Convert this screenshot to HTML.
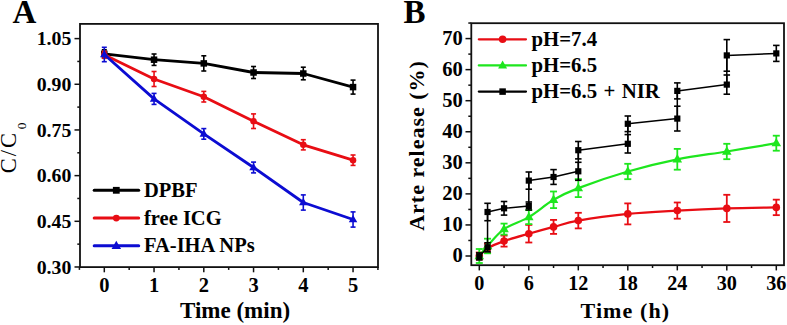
<!DOCTYPE html>
<html><head><meta charset="utf-8"><style>
html,body{margin:0;padding:0;background:#fff;width:787px;height:325px;overflow:hidden}
svg{display:block}
text{font-family:"Liberation Serif",serif}
</style></head><body>
<svg width="787" height="325" viewBox="0 0 787 325">
<rect width="787" height="325" fill="#fff"/>
<text x="12.50" y="22.70" font-size="33" font-weight="bold" text-anchor="start" >A</text>
<text x="403.50" y="22.70" font-size="33" font-weight="bold" text-anchor="start" >B</text>
<line x1="74.50" y1="266.98" x2="80.00" y2="266.98" stroke="#111" stroke-width="1.5"/>
<text x="71.30" y="273.58" font-size="19.8" font-weight="bold" text-anchor="end" >0.30</text>
<line x1="74.50" y1="221.30" x2="80.00" y2="221.30" stroke="#111" stroke-width="1.5"/>
<text x="71.30" y="227.90" font-size="19.8" font-weight="bold" text-anchor="end" >0.45</text>
<line x1="74.50" y1="175.63" x2="80.00" y2="175.63" stroke="#111" stroke-width="1.5"/>
<text x="71.30" y="182.23" font-size="19.8" font-weight="bold" text-anchor="end" >0.60</text>
<line x1="74.50" y1="129.95" x2="80.00" y2="129.95" stroke="#111" stroke-width="1.5"/>
<text x="71.30" y="136.55" font-size="19.8" font-weight="bold" text-anchor="end" >0.75</text>
<line x1="74.50" y1="84.28" x2="80.00" y2="84.28" stroke="#111" stroke-width="1.5"/>
<text x="71.30" y="90.88" font-size="19.8" font-weight="bold" text-anchor="end" >0.90</text>
<line x1="74.50" y1="38.60" x2="80.00" y2="38.60" stroke="#111" stroke-width="1.5"/>
<text x="71.30" y="45.20" font-size="19.8" font-weight="bold" text-anchor="end" >1.05</text>
<line x1="77.30" y1="244.14" x2="80.00" y2="244.14" stroke="#111" stroke-width="1.5"/>
<line x1="77.30" y1="198.46" x2="80.00" y2="198.46" stroke="#111" stroke-width="1.5"/>
<line x1="77.30" y1="152.79" x2="80.00" y2="152.79" stroke="#111" stroke-width="1.5"/>
<line x1="77.30" y1="107.11" x2="80.00" y2="107.11" stroke="#111" stroke-width="1.5"/>
<line x1="77.30" y1="61.44" x2="80.00" y2="61.44" stroke="#111" stroke-width="1.5"/>
<line x1="104.30" y1="267.10" x2="104.30" y2="272.30" stroke="#111" stroke-width="1.5"/>
<text x="104.30" y="292.20" font-size="20.5" font-weight="bold" text-anchor="middle" >0</text>
<line x1="154.05" y1="267.10" x2="154.05" y2="272.30" stroke="#111" stroke-width="1.5"/>
<text x="154.05" y="292.20" font-size="20.5" font-weight="bold" text-anchor="middle" >1</text>
<line x1="203.80" y1="267.10" x2="203.80" y2="272.30" stroke="#111" stroke-width="1.5"/>
<text x="203.80" y="292.20" font-size="20.5" font-weight="bold" text-anchor="middle" >2</text>
<line x1="253.55" y1="267.10" x2="253.55" y2="272.30" stroke="#111" stroke-width="1.5"/>
<text x="253.55" y="292.20" font-size="20.5" font-weight="bold" text-anchor="middle" >3</text>
<line x1="303.30" y1="267.10" x2="303.30" y2="272.30" stroke="#111" stroke-width="1.5"/>
<text x="303.30" y="292.20" font-size="20.5" font-weight="bold" text-anchor="middle" >4</text>
<line x1="353.05" y1="267.10" x2="353.05" y2="272.30" stroke="#111" stroke-width="1.5"/>
<text x="353.05" y="292.20" font-size="20.5" font-weight="bold" text-anchor="middle" >5</text>
<line x1="79.42" y1="267.10" x2="79.42" y2="269.90" stroke="#111" stroke-width="1.5"/>
<line x1="129.18" y1="267.10" x2="129.18" y2="269.90" stroke="#111" stroke-width="1.5"/>
<line x1="178.93" y1="267.10" x2="178.93" y2="269.90" stroke="#111" stroke-width="1.5"/>
<line x1="228.68" y1="267.10" x2="228.68" y2="269.90" stroke="#111" stroke-width="1.5"/>
<line x1="278.43" y1="267.10" x2="278.43" y2="269.90" stroke="#111" stroke-width="1.5"/>
<line x1="328.18" y1="267.10" x2="328.18" y2="269.90" stroke="#111" stroke-width="1.5"/>
<line x1="377.93" y1="267.10" x2="377.93" y2="269.90" stroke="#111" stroke-width="1.5"/>
<text x="180.00" y="318.40" font-size="23" font-weight="bold" text-anchor="start" >Time (min)</text>
<text transform="translate(16.4,173.2) rotate(-90)" font-size="22.5" font-weight="normal" letter-spacing="2">C/C<tspan font-size="13.5" dx="1.6" dy="9.6">0</tspan></text>
<polyline points="104.30,53.80 154.05,59.70 203.80,63.40 253.55,72.50 303.30,73.50 353.05,87.10" fill="none" stroke="#000" stroke-width="2.8" stroke-linejoin="round" stroke-linecap="round"/>
<line x1="104.30" y1="49.80" x2="104.30" y2="57.80" stroke="#000" stroke-width="1.6"/>
<line x1="101.80" y1="49.80" x2="106.80" y2="49.80" stroke="#000" stroke-width="1.6"/>
<line x1="101.80" y1="57.80" x2="106.80" y2="57.80" stroke="#000" stroke-width="1.6"/>
<rect x="101.05" y="50.55" width="6.5" height="6.5" fill="#000"/>
<line x1="154.05" y1="54.00" x2="154.05" y2="65.40" stroke="#000" stroke-width="1.6"/>
<line x1="151.55" y1="54.00" x2="156.55" y2="54.00" stroke="#000" stroke-width="1.6"/>
<line x1="151.55" y1="65.40" x2="156.55" y2="65.40" stroke="#000" stroke-width="1.6"/>
<rect x="150.80" y="56.45" width="6.5" height="6.5" fill="#000"/>
<line x1="203.80" y1="55.80" x2="203.80" y2="71.00" stroke="#000" stroke-width="1.6"/>
<line x1="201.30" y1="55.80" x2="206.30" y2="55.80" stroke="#000" stroke-width="1.6"/>
<line x1="201.30" y1="71.00" x2="206.30" y2="71.00" stroke="#000" stroke-width="1.6"/>
<rect x="200.55" y="60.15" width="6.5" height="6.5" fill="#000"/>
<line x1="253.55" y1="66.50" x2="253.55" y2="78.50" stroke="#000" stroke-width="1.6"/>
<line x1="251.05" y1="66.50" x2="256.05" y2="66.50" stroke="#000" stroke-width="1.6"/>
<line x1="251.05" y1="78.50" x2="256.05" y2="78.50" stroke="#000" stroke-width="1.6"/>
<rect x="250.30" y="69.25" width="6.5" height="6.5" fill="#000"/>
<line x1="303.30" y1="67.20" x2="303.30" y2="79.80" stroke="#000" stroke-width="1.6"/>
<line x1="300.80" y1="67.20" x2="305.80" y2="67.20" stroke="#000" stroke-width="1.6"/>
<line x1="300.80" y1="79.80" x2="305.80" y2="79.80" stroke="#000" stroke-width="1.6"/>
<rect x="300.05" y="70.25" width="6.5" height="6.5" fill="#000"/>
<line x1="353.05" y1="80.10" x2="353.05" y2="94.10" stroke="#000" stroke-width="1.6"/>
<line x1="350.55" y1="80.10" x2="355.55" y2="80.10" stroke="#000" stroke-width="1.6"/>
<line x1="350.55" y1="94.10" x2="355.55" y2="94.10" stroke="#000" stroke-width="1.6"/>
<rect x="349.80" y="83.85" width="6.5" height="6.5" fill="#000"/>
<polyline points="104.30,54.80 154.05,79.00 203.80,96.70 253.55,121.20 303.30,144.80 353.05,160.20" fill="none" stroke="#e80d14" stroke-width="2.8" stroke-linejoin="round" stroke-linecap="round"/>
<line x1="104.30" y1="51.30" x2="104.30" y2="58.30" stroke="#e80d14" stroke-width="1.6"/>
<line x1="101.80" y1="51.30" x2="106.80" y2="51.30" stroke="#e80d14" stroke-width="1.6"/>
<line x1="101.80" y1="58.30" x2="106.80" y2="58.30" stroke="#e80d14" stroke-width="1.6"/>
<circle cx="104.30" cy="54.80" r="3.25" fill="#e80d14"/>
<line x1="154.05" y1="71.50" x2="154.05" y2="86.50" stroke="#e80d14" stroke-width="1.6"/>
<line x1="151.55" y1="71.50" x2="156.55" y2="71.50" stroke="#e80d14" stroke-width="1.6"/>
<line x1="151.55" y1="86.50" x2="156.55" y2="86.50" stroke="#e80d14" stroke-width="1.6"/>
<circle cx="154.05" cy="79.00" r="3.25" fill="#e80d14"/>
<line x1="203.80" y1="91.40" x2="203.80" y2="102.00" stroke="#e80d14" stroke-width="1.6"/>
<line x1="201.30" y1="91.40" x2="206.30" y2="91.40" stroke="#e80d14" stroke-width="1.6"/>
<line x1="201.30" y1="102.00" x2="206.30" y2="102.00" stroke="#e80d14" stroke-width="1.6"/>
<circle cx="203.80" cy="96.70" r="3.25" fill="#e80d14"/>
<line x1="253.55" y1="113.90" x2="253.55" y2="128.50" stroke="#e80d14" stroke-width="1.6"/>
<line x1="251.05" y1="113.90" x2="256.05" y2="113.90" stroke="#e80d14" stroke-width="1.6"/>
<line x1="251.05" y1="128.50" x2="256.05" y2="128.50" stroke="#e80d14" stroke-width="1.6"/>
<circle cx="253.55" cy="121.20" r="3.25" fill="#e80d14"/>
<line x1="303.30" y1="139.70" x2="303.30" y2="149.90" stroke="#e80d14" stroke-width="1.6"/>
<line x1="300.80" y1="139.70" x2="305.80" y2="139.70" stroke="#e80d14" stroke-width="1.6"/>
<line x1="300.80" y1="149.90" x2="305.80" y2="149.90" stroke="#e80d14" stroke-width="1.6"/>
<circle cx="303.30" cy="144.80" r="3.25" fill="#e80d14"/>
<line x1="353.05" y1="155.00" x2="353.05" y2="165.40" stroke="#e80d14" stroke-width="1.6"/>
<line x1="350.55" y1="155.00" x2="355.55" y2="155.00" stroke="#e80d14" stroke-width="1.6"/>
<line x1="350.55" y1="165.40" x2="355.55" y2="165.40" stroke="#e80d14" stroke-width="1.6"/>
<circle cx="353.05" cy="160.20" r="3.25" fill="#e80d14"/>
<polyline points="104.30,54.50 154.05,98.90 203.80,133.90 253.55,167.50 303.30,202.50 353.05,219.50" fill="none" stroke="#0c0cd2" stroke-width="2.8" stroke-linejoin="round" stroke-linecap="round"/>
<line x1="104.30" y1="47.30" x2="104.30" y2="61.70" stroke="#0c0cd2" stroke-width="1.6"/>
<line x1="101.80" y1="47.30" x2="106.80" y2="47.30" stroke="#0c0cd2" stroke-width="1.6"/>
<line x1="101.80" y1="61.70" x2="106.80" y2="61.70" stroke="#0c0cd2" stroke-width="1.6"/>
<polygon points="104.30,49.92 108.55,57.31 100.05,57.31" fill="#0c0cd2"/>
<line x1="154.05" y1="93.40" x2="154.05" y2="104.40" stroke="#0c0cd2" stroke-width="1.6"/>
<line x1="151.55" y1="93.40" x2="156.55" y2="93.40" stroke="#0c0cd2" stroke-width="1.6"/>
<line x1="151.55" y1="104.40" x2="156.55" y2="104.40" stroke="#0c0cd2" stroke-width="1.6"/>
<polygon points="154.05,94.32 158.30,101.71 149.80,101.71" fill="#0c0cd2"/>
<line x1="203.80" y1="128.60" x2="203.80" y2="139.20" stroke="#0c0cd2" stroke-width="1.6"/>
<line x1="201.30" y1="128.60" x2="206.30" y2="128.60" stroke="#0c0cd2" stroke-width="1.6"/>
<line x1="201.30" y1="139.20" x2="206.30" y2="139.20" stroke="#0c0cd2" stroke-width="1.6"/>
<polygon points="203.80,129.32 208.05,136.71 199.55,136.71" fill="#0c0cd2"/>
<line x1="253.55" y1="162.10" x2="253.55" y2="172.90" stroke="#0c0cd2" stroke-width="1.6"/>
<line x1="251.05" y1="162.10" x2="256.05" y2="162.10" stroke="#0c0cd2" stroke-width="1.6"/>
<line x1="251.05" y1="172.90" x2="256.05" y2="172.90" stroke="#0c0cd2" stroke-width="1.6"/>
<polygon points="253.55,162.92 257.80,170.31 249.30,170.31" fill="#0c0cd2"/>
<line x1="303.30" y1="194.90" x2="303.30" y2="210.10" stroke="#0c0cd2" stroke-width="1.6"/>
<line x1="300.80" y1="194.90" x2="305.80" y2="194.90" stroke="#0c0cd2" stroke-width="1.6"/>
<line x1="300.80" y1="210.10" x2="305.80" y2="210.10" stroke="#0c0cd2" stroke-width="1.6"/>
<polygon points="303.30,197.92 307.55,205.31 299.05,205.31" fill="#0c0cd2"/>
<line x1="353.05" y1="211.90" x2="353.05" y2="227.10" stroke="#0c0cd2" stroke-width="1.6"/>
<line x1="350.55" y1="211.90" x2="355.55" y2="211.90" stroke="#0c0cd2" stroke-width="1.6"/>
<line x1="350.55" y1="227.10" x2="355.55" y2="227.10" stroke="#0c0cd2" stroke-width="1.6"/>
<polygon points="353.05,214.92 357.30,222.31 348.80,222.31" fill="#0c0cd2"/>
<line x1="94.2" y1="190.30" x2="138.7" y2="190.30" stroke="#000" stroke-width="3" stroke-linecap="round"/>
<rect x="112.90" y="186.90" width="6.8" height="6.8" fill="#000"/>
<text x="144.00" y="196.80" font-size="20.5" font-weight="bold" text-anchor="start" >DPBF</text>
<line x1="94.2" y1="218.05" x2="138.7" y2="218.05" stroke="#e80d14" stroke-width="3" stroke-linecap="round"/>
<circle cx="116.30" cy="218.05" r="3.4" fill="#e80d14"/>
<text x="144.00" y="224.55" font-size="20.5" font-weight="bold" text-anchor="start" >free ICG</text>
<line x1="94.2" y1="245.80" x2="138.7" y2="245.80" stroke="#0c0cd2" stroke-width="3" stroke-linecap="round"/>
<polygon points="116.30,240.68 121.05,248.94 111.55,248.94" fill="#0c0cd2"/>
<text x="144.00" y="252.30" font-size="20.5" font-weight="bold" text-anchor="start" >FA-IHA NPs</text>
<rect x="80.0" y="23.9" width="298.00" height="243.20" fill="none" stroke="#111" stroke-width="1.8"/>
<line x1="465.50" y1="256.00" x2="471.30" y2="256.00" stroke="#111" stroke-width="1.5"/>
<text x="462.80" y="262.30" font-size="20.5" font-weight="bold" text-anchor="end" >0</text>
<line x1="465.50" y1="224.94" x2="471.30" y2="224.94" stroke="#111" stroke-width="1.5"/>
<text x="462.80" y="231.24" font-size="20.5" font-weight="bold" text-anchor="end" >10</text>
<line x1="465.50" y1="193.88" x2="471.30" y2="193.88" stroke="#111" stroke-width="1.5"/>
<text x="462.80" y="200.18" font-size="20.5" font-weight="bold" text-anchor="end" >20</text>
<line x1="465.50" y1="162.82" x2="471.30" y2="162.82" stroke="#111" stroke-width="1.5"/>
<text x="462.80" y="169.12" font-size="20.5" font-weight="bold" text-anchor="end" >30</text>
<line x1="465.50" y1="131.76" x2="471.30" y2="131.76" stroke="#111" stroke-width="1.5"/>
<text x="462.80" y="138.06" font-size="20.5" font-weight="bold" text-anchor="end" >40</text>
<line x1="465.50" y1="100.70" x2="471.30" y2="100.70" stroke="#111" stroke-width="1.5"/>
<text x="462.80" y="107.00" font-size="20.5" font-weight="bold" text-anchor="end" >50</text>
<line x1="465.50" y1="69.64" x2="471.30" y2="69.64" stroke="#111" stroke-width="1.5"/>
<text x="462.80" y="75.94" font-size="20.5" font-weight="bold" text-anchor="end" >60</text>
<line x1="465.50" y1="38.58" x2="471.30" y2="38.58" stroke="#111" stroke-width="1.5"/>
<text x="462.80" y="44.88" font-size="20.5" font-weight="bold" text-anchor="end" >70</text>
<line x1="468.30" y1="240.47" x2="471.30" y2="240.47" stroke="#111" stroke-width="1.5"/>
<line x1="468.30" y1="209.41" x2="471.30" y2="209.41" stroke="#111" stroke-width="1.5"/>
<line x1="468.30" y1="178.35" x2="471.30" y2="178.35" stroke="#111" stroke-width="1.5"/>
<line x1="468.30" y1="147.29" x2="471.30" y2="147.29" stroke="#111" stroke-width="1.5"/>
<line x1="468.30" y1="116.23" x2="471.30" y2="116.23" stroke="#111" stroke-width="1.5"/>
<line x1="468.30" y1="85.17" x2="471.30" y2="85.17" stroke="#111" stroke-width="1.5"/>
<line x1="468.30" y1="54.11" x2="471.30" y2="54.11" stroke="#111" stroke-width="1.5"/>
<line x1="468.30" y1="23.05" x2="471.30" y2="23.05" stroke="#111" stroke-width="1.5"/>
<line x1="479.30" y1="265.20" x2="479.30" y2="270.40" stroke="#111" stroke-width="1.5"/>
<text x="479.30" y="290.00" font-size="20.2" font-weight="bold" text-anchor="middle" >0</text>
<line x1="528.80" y1="265.20" x2="528.80" y2="270.40" stroke="#111" stroke-width="1.5"/>
<text x="528.80" y="290.00" font-size="20.2" font-weight="bold" text-anchor="middle" >6</text>
<line x1="578.30" y1="265.20" x2="578.30" y2="270.40" stroke="#111" stroke-width="1.5"/>
<text x="578.30" y="290.00" font-size="20.2" font-weight="bold" text-anchor="middle" >12</text>
<line x1="627.80" y1="265.20" x2="627.80" y2="270.40" stroke="#111" stroke-width="1.5"/>
<text x="627.80" y="290.00" font-size="20.2" font-weight="bold" text-anchor="middle" >18</text>
<line x1="677.30" y1="265.20" x2="677.30" y2="270.40" stroke="#111" stroke-width="1.5"/>
<text x="677.30" y="290.00" font-size="20.2" font-weight="bold" text-anchor="middle" >24</text>
<line x1="726.80" y1="265.20" x2="726.80" y2="270.40" stroke="#111" stroke-width="1.5"/>
<text x="726.80" y="290.00" font-size="20.2" font-weight="bold" text-anchor="middle" >30</text>
<line x1="776.30" y1="265.20" x2="776.30" y2="270.40" stroke="#111" stroke-width="1.5"/>
<text x="776.30" y="290.00" font-size="20.2" font-weight="bold" text-anchor="middle" >36</text>
<line x1="504.05" y1="265.20" x2="504.05" y2="268.00" stroke="#111" stroke-width="1.5"/>
<line x1="553.55" y1="265.20" x2="553.55" y2="268.00" stroke="#111" stroke-width="1.5"/>
<line x1="603.05" y1="265.20" x2="603.05" y2="268.00" stroke="#111" stroke-width="1.5"/>
<line x1="652.55" y1="265.20" x2="652.55" y2="268.00" stroke="#111" stroke-width="1.5"/>
<line x1="702.05" y1="265.20" x2="702.05" y2="268.00" stroke="#111" stroke-width="1.5"/>
<line x1="751.55" y1="265.20" x2="751.55" y2="268.00" stroke="#111" stroke-width="1.5"/>
<text x="580.50" y="318.40" font-size="22" font-weight="bold" text-anchor="start" letter-spacing="1.1" >Time (h)</text>
<text transform="translate(423.6,230.8) rotate(-90)" font-size="22" font-weight="bold" letter-spacing="1">Arte release (%)</text>
<path d="M479.30,256.00 C480.68,254.70 483.43,250.68 487.55,248.20 C491.68,245.72 497.18,243.52 504.05,241.10 C510.93,238.68 520.55,236.07 528.80,233.70 C537.05,231.33 545.30,229.08 553.55,226.90 C561.80,224.72 565.92,222.77 578.30,220.60 C590.67,218.43 611.30,215.57 627.80,213.90 C644.30,212.23 660.80,211.52 677.30,210.60 C693.80,209.68 710.30,208.93 726.80,208.40 C743.30,207.87 768.05,207.57 776.30,207.40" fill="none" stroke="#e80d14" stroke-width="2.2" stroke-linecap="round"/>
<line x1="479.30" y1="252.50" x2="479.30" y2="259.50" stroke="#e80d14" stroke-width="1.8"/>
<line x1="475.80" y1="252.50" x2="482.80" y2="252.50" stroke="#e80d14" stroke-width="1.8"/>
<line x1="475.80" y1="259.50" x2="482.80" y2="259.50" stroke="#e80d14" stroke-width="1.8"/>
<circle cx="479.30" cy="256.00" r="3.8" fill="#e80d14"/>
<line x1="487.55" y1="243.70" x2="487.55" y2="252.70" stroke="#e80d14" stroke-width="1.8"/>
<line x1="484.05" y1="243.70" x2="491.05" y2="243.70" stroke="#e80d14" stroke-width="1.8"/>
<line x1="484.05" y1="252.70" x2="491.05" y2="252.70" stroke="#e80d14" stroke-width="1.8"/>
<circle cx="487.55" cy="248.20" r="3.8" fill="#e80d14"/>
<line x1="504.05" y1="235.60" x2="504.05" y2="246.60" stroke="#e80d14" stroke-width="1.8"/>
<line x1="500.55" y1="235.60" x2="507.55" y2="235.60" stroke="#e80d14" stroke-width="1.8"/>
<line x1="500.55" y1="246.60" x2="507.55" y2="246.60" stroke="#e80d14" stroke-width="1.8"/>
<circle cx="504.05" cy="241.10" r="3.8" fill="#e80d14"/>
<line x1="528.80" y1="224.90" x2="528.80" y2="242.50" stroke="#e80d14" stroke-width="1.8"/>
<line x1="525.30" y1="224.90" x2="532.30" y2="224.90" stroke="#e80d14" stroke-width="1.8"/>
<line x1="525.30" y1="242.50" x2="532.30" y2="242.50" stroke="#e80d14" stroke-width="1.8"/>
<circle cx="528.80" cy="233.70" r="3.8" fill="#e80d14"/>
<line x1="553.55" y1="219.90" x2="553.55" y2="233.90" stroke="#e80d14" stroke-width="1.8"/>
<line x1="550.05" y1="219.90" x2="557.05" y2="219.90" stroke="#e80d14" stroke-width="1.8"/>
<line x1="550.05" y1="233.90" x2="557.05" y2="233.90" stroke="#e80d14" stroke-width="1.8"/>
<circle cx="553.55" cy="226.90" r="3.8" fill="#e80d14"/>
<line x1="578.30" y1="212.80" x2="578.30" y2="228.40" stroke="#e80d14" stroke-width="1.8"/>
<line x1="574.80" y1="212.80" x2="581.80" y2="212.80" stroke="#e80d14" stroke-width="1.8"/>
<line x1="574.80" y1="228.40" x2="581.80" y2="228.40" stroke="#e80d14" stroke-width="1.8"/>
<circle cx="578.30" cy="220.60" r="3.8" fill="#e80d14"/>
<line x1="627.80" y1="203.40" x2="627.80" y2="224.40" stroke="#e80d14" stroke-width="1.8"/>
<line x1="624.30" y1="203.40" x2="631.30" y2="203.40" stroke="#e80d14" stroke-width="1.8"/>
<line x1="624.30" y1="224.40" x2="631.30" y2="224.40" stroke="#e80d14" stroke-width="1.8"/>
<circle cx="627.80" cy="213.90" r="3.8" fill="#e80d14"/>
<line x1="677.30" y1="202.50" x2="677.30" y2="218.70" stroke="#e80d14" stroke-width="1.8"/>
<line x1="673.80" y1="202.50" x2="680.80" y2="202.50" stroke="#e80d14" stroke-width="1.8"/>
<line x1="673.80" y1="218.70" x2="680.80" y2="218.70" stroke="#e80d14" stroke-width="1.8"/>
<circle cx="677.30" cy="210.60" r="3.8" fill="#e80d14"/>
<line x1="726.80" y1="194.80" x2="726.80" y2="222.00" stroke="#e80d14" stroke-width="1.8"/>
<line x1="723.30" y1="194.80" x2="730.30" y2="194.80" stroke="#e80d14" stroke-width="1.8"/>
<line x1="723.30" y1="222.00" x2="730.30" y2="222.00" stroke="#e80d14" stroke-width="1.8"/>
<circle cx="726.80" cy="208.40" r="3.8" fill="#e80d14"/>
<line x1="776.30" y1="199.65" x2="776.30" y2="215.15" stroke="#e80d14" stroke-width="1.8"/>
<line x1="772.80" y1="199.65" x2="779.80" y2="199.65" stroke="#e80d14" stroke-width="1.8"/>
<line x1="772.80" y1="215.15" x2="779.80" y2="215.15" stroke="#e80d14" stroke-width="1.8"/>
<circle cx="776.30" cy="207.40" r="3.8" fill="#e80d14"/>
<path d="M479.30,256.00 C480.68,254.33 483.43,250.48 487.55,246.00 C491.68,241.52 497.18,233.92 504.05,229.10 C510.93,224.28 520.55,221.98 528.80,217.10 C537.05,212.22 545.30,204.63 553.55,199.80 C561.80,194.97 565.92,192.82 578.30,188.10 C590.67,183.38 611.30,176.30 627.80,171.50 C644.30,166.70 660.80,162.63 677.30,159.30 C693.80,155.97 710.30,154.18 726.80,151.50 C743.30,148.82 768.05,144.58 776.30,143.20" fill="none" stroke="#1ee61e" stroke-width="2.2" stroke-linecap="round"/>
<line x1="479.30" y1="249.00" x2="479.30" y2="263.00" stroke="#1ee61e" stroke-width="1.8"/>
<line x1="475.80" y1="249.00" x2="482.80" y2="249.00" stroke="#1ee61e" stroke-width="1.8"/>
<line x1="475.80" y1="263.00" x2="482.80" y2="263.00" stroke="#1ee61e" stroke-width="1.8"/>
<polygon points="479.30,250.82 484.10,259.17 474.50,259.17" fill="#1ee61e"/>
<line x1="487.55" y1="238.70" x2="487.55" y2="253.30" stroke="#1ee61e" stroke-width="1.8"/>
<line x1="484.05" y1="238.70" x2="491.05" y2="238.70" stroke="#1ee61e" stroke-width="1.8"/>
<line x1="484.05" y1="253.30" x2="491.05" y2="253.30" stroke="#1ee61e" stroke-width="1.8"/>
<polygon points="487.55,240.82 492.35,249.17 482.75,249.17" fill="#1ee61e"/>
<line x1="504.05" y1="223.60" x2="504.05" y2="234.60" stroke="#1ee61e" stroke-width="1.8"/>
<line x1="500.55" y1="223.60" x2="507.55" y2="223.60" stroke="#1ee61e" stroke-width="1.8"/>
<line x1="500.55" y1="234.60" x2="507.55" y2="234.60" stroke="#1ee61e" stroke-width="1.8"/>
<polygon points="504.05,223.92 508.85,232.27 499.25,232.27" fill="#1ee61e"/>
<line x1="528.80" y1="210.10" x2="528.80" y2="224.10" stroke="#1ee61e" stroke-width="1.8"/>
<line x1="525.30" y1="210.10" x2="532.30" y2="210.10" stroke="#1ee61e" stroke-width="1.8"/>
<line x1="525.30" y1="224.10" x2="532.30" y2="224.10" stroke="#1ee61e" stroke-width="1.8"/>
<polygon points="528.80,211.92 533.60,220.27 524.00,220.27" fill="#1ee61e"/>
<line x1="553.55" y1="191.50" x2="553.55" y2="208.10" stroke="#1ee61e" stroke-width="1.8"/>
<line x1="550.05" y1="191.50" x2="557.05" y2="191.50" stroke="#1ee61e" stroke-width="1.8"/>
<line x1="550.05" y1="208.10" x2="557.05" y2="208.10" stroke="#1ee61e" stroke-width="1.8"/>
<polygon points="553.55,194.62 558.35,202.97 548.75,202.97" fill="#1ee61e"/>
<line x1="578.30" y1="179.10" x2="578.30" y2="197.10" stroke="#1ee61e" stroke-width="1.8"/>
<line x1="574.80" y1="179.10" x2="581.80" y2="179.10" stroke="#1ee61e" stroke-width="1.8"/>
<line x1="574.80" y1="197.10" x2="581.80" y2="197.10" stroke="#1ee61e" stroke-width="1.8"/>
<polygon points="578.30,182.92 583.10,191.27 573.50,191.27" fill="#1ee61e"/>
<line x1="627.80" y1="163.80" x2="627.80" y2="179.20" stroke="#1ee61e" stroke-width="1.8"/>
<line x1="624.30" y1="163.80" x2="631.30" y2="163.80" stroke="#1ee61e" stroke-width="1.8"/>
<line x1="624.30" y1="179.20" x2="631.30" y2="179.20" stroke="#1ee61e" stroke-width="1.8"/>
<polygon points="627.80,166.32 632.60,174.67 623.00,174.67" fill="#1ee61e"/>
<line x1="677.30" y1="148.90" x2="677.30" y2="169.70" stroke="#1ee61e" stroke-width="1.8"/>
<line x1="673.80" y1="148.90" x2="680.80" y2="148.90" stroke="#1ee61e" stroke-width="1.8"/>
<line x1="673.80" y1="169.70" x2="680.80" y2="169.70" stroke="#1ee61e" stroke-width="1.8"/>
<polygon points="677.30,154.12 682.10,162.47 672.50,162.47" fill="#1ee61e"/>
<line x1="726.80" y1="143.80" x2="726.80" y2="159.20" stroke="#1ee61e" stroke-width="1.8"/>
<line x1="723.30" y1="143.80" x2="730.30" y2="143.80" stroke="#1ee61e" stroke-width="1.8"/>
<line x1="723.30" y1="159.20" x2="730.30" y2="159.20" stroke="#1ee61e" stroke-width="1.8"/>
<polygon points="726.80,146.32 731.60,154.67 722.00,154.67" fill="#1ee61e"/>
<line x1="776.30" y1="135.70" x2="776.30" y2="150.70" stroke="#1ee61e" stroke-width="1.8"/>
<line x1="772.80" y1="135.70" x2="779.80" y2="135.70" stroke="#1ee61e" stroke-width="1.8"/>
<line x1="772.80" y1="150.70" x2="779.80" y2="150.70" stroke="#1ee61e" stroke-width="1.8"/>
<polygon points="776.30,138.02 781.10,146.37 771.50,146.37" fill="#1ee61e"/>
<polyline points="479.30,256.40 487.55,247.30 487.55,212.00 504.05,208.30 528.80,206.00 528.80,180.60 553.55,177.00 578.30,171.30 578.30,150.20 627.80,143.80 627.80,123.80 677.30,118.60 677.30,90.90 726.80,84.60 726.80,55.40 776.30,53.40" fill="none" stroke="#000" stroke-width="1.5" stroke-linejoin="round" stroke-linecap="round"/>
<line x1="479.30" y1="252.90" x2="479.30" y2="259.90" stroke="#000" stroke-width="1.6"/>
<line x1="476.05" y1="252.90" x2="482.55" y2="252.90" stroke="#000" stroke-width="1.6"/>
<line x1="476.05" y1="259.90" x2="482.55" y2="259.90" stroke="#000" stroke-width="1.6"/>
<rect x="476.20" y="253.30" width="6.2" height="6.2" fill="#000"/>
<line x1="487.55" y1="242.80" x2="487.55" y2="251.80" stroke="#000" stroke-width="1.6"/>
<line x1="484.30" y1="242.80" x2="490.80" y2="242.80" stroke="#000" stroke-width="1.6"/>
<line x1="484.30" y1="251.80" x2="490.80" y2="251.80" stroke="#000" stroke-width="1.6"/>
<rect x="484.45" y="244.20" width="6.2" height="6.2" fill="#000"/>
<line x1="487.55" y1="203.30" x2="487.55" y2="220.70" stroke="#000" stroke-width="1.6"/>
<line x1="484.30" y1="203.30" x2="490.80" y2="203.30" stroke="#000" stroke-width="1.6"/>
<line x1="484.30" y1="220.70" x2="490.80" y2="220.70" stroke="#000" stroke-width="1.6"/>
<rect x="484.45" y="208.90" width="6.2" height="6.2" fill="#000"/>
<line x1="504.05" y1="201.50" x2="504.05" y2="215.10" stroke="#000" stroke-width="1.6"/>
<line x1="500.80" y1="201.50" x2="507.30" y2="201.50" stroke="#000" stroke-width="1.6"/>
<line x1="500.80" y1="215.10" x2="507.30" y2="215.10" stroke="#000" stroke-width="1.6"/>
<rect x="500.95" y="205.20" width="6.2" height="6.2" fill="#000"/>
<line x1="528.80" y1="202.00" x2="528.80" y2="210.00" stroke="#000" stroke-width="1.6"/>
<line x1="525.55" y1="202.00" x2="532.05" y2="202.00" stroke="#000" stroke-width="1.6"/>
<line x1="525.55" y1="210.00" x2="532.05" y2="210.00" stroke="#000" stroke-width="1.6"/>
<rect x="525.70" y="202.90" width="6.2" height="6.2" fill="#000"/>
<line x1="528.80" y1="172.00" x2="528.80" y2="189.20" stroke="#000" stroke-width="1.6"/>
<line x1="525.55" y1="172.00" x2="532.05" y2="172.00" stroke="#000" stroke-width="1.6"/>
<line x1="525.55" y1="189.20" x2="532.05" y2="189.20" stroke="#000" stroke-width="1.6"/>
<rect x="525.70" y="177.50" width="6.2" height="6.2" fill="#000"/>
<line x1="553.55" y1="169.60" x2="553.55" y2="184.40" stroke="#000" stroke-width="1.6"/>
<line x1="550.30" y1="169.60" x2="556.80" y2="169.60" stroke="#000" stroke-width="1.6"/>
<line x1="550.30" y1="184.40" x2="556.80" y2="184.40" stroke="#000" stroke-width="1.6"/>
<rect x="550.45" y="173.90" width="6.2" height="6.2" fill="#000"/>
<line x1="578.30" y1="162.30" x2="578.30" y2="180.30" stroke="#000" stroke-width="1.6"/>
<line x1="575.05" y1="162.30" x2="581.55" y2="162.30" stroke="#000" stroke-width="1.6"/>
<line x1="575.05" y1="180.30" x2="581.55" y2="180.30" stroke="#000" stroke-width="1.6"/>
<rect x="575.20" y="168.20" width="6.2" height="6.2" fill="#000"/>
<line x1="578.30" y1="141.50" x2="578.30" y2="158.90" stroke="#000" stroke-width="1.6"/>
<line x1="575.05" y1="141.50" x2="581.55" y2="141.50" stroke="#000" stroke-width="1.6"/>
<line x1="575.05" y1="158.90" x2="581.55" y2="158.90" stroke="#000" stroke-width="1.6"/>
<rect x="575.20" y="147.10" width="6.2" height="6.2" fill="#000"/>
<line x1="627.80" y1="134.60" x2="627.80" y2="153.00" stroke="#000" stroke-width="1.6"/>
<line x1="624.55" y1="134.60" x2="631.05" y2="134.60" stroke="#000" stroke-width="1.6"/>
<line x1="624.55" y1="153.00" x2="631.05" y2="153.00" stroke="#000" stroke-width="1.6"/>
<rect x="624.70" y="140.70" width="6.2" height="6.2" fill="#000"/>
<line x1="627.80" y1="116.00" x2="627.80" y2="131.60" stroke="#000" stroke-width="1.6"/>
<line x1="624.55" y1="116.00" x2="631.05" y2="116.00" stroke="#000" stroke-width="1.6"/>
<line x1="624.55" y1="131.60" x2="631.05" y2="131.60" stroke="#000" stroke-width="1.6"/>
<rect x="624.70" y="120.70" width="6.2" height="6.2" fill="#000"/>
<line x1="677.30" y1="106.20" x2="677.30" y2="131.00" stroke="#000" stroke-width="1.6"/>
<line x1="674.05" y1="106.20" x2="680.55" y2="106.20" stroke="#000" stroke-width="1.6"/>
<line x1="674.05" y1="131.00" x2="680.55" y2="131.00" stroke="#000" stroke-width="1.6"/>
<rect x="674.20" y="115.50" width="6.2" height="6.2" fill="#000"/>
<line x1="677.30" y1="82.90" x2="677.30" y2="98.90" stroke="#000" stroke-width="1.6"/>
<line x1="674.05" y1="82.90" x2="680.55" y2="82.90" stroke="#000" stroke-width="1.6"/>
<line x1="674.05" y1="98.90" x2="680.55" y2="98.90" stroke="#000" stroke-width="1.6"/>
<rect x="674.20" y="87.80" width="6.2" height="6.2" fill="#000"/>
<line x1="726.80" y1="75.00" x2="726.80" y2="94.20" stroke="#000" stroke-width="1.6"/>
<line x1="723.55" y1="75.00" x2="730.05" y2="75.00" stroke="#000" stroke-width="1.6"/>
<line x1="723.55" y1="94.20" x2="730.05" y2="94.20" stroke="#000" stroke-width="1.6"/>
<rect x="723.70" y="81.50" width="6.2" height="6.2" fill="#000"/>
<line x1="726.80" y1="39.60" x2="726.80" y2="71.20" stroke="#000" stroke-width="1.6"/>
<line x1="723.55" y1="39.60" x2="730.05" y2="39.60" stroke="#000" stroke-width="1.6"/>
<line x1="723.55" y1="71.20" x2="730.05" y2="71.20" stroke="#000" stroke-width="1.6"/>
<rect x="723.70" y="52.30" width="6.2" height="6.2" fill="#000"/>
<line x1="776.30" y1="45.40" x2="776.30" y2="61.40" stroke="#000" stroke-width="1.6"/>
<line x1="773.05" y1="45.40" x2="779.55" y2="45.40" stroke="#000" stroke-width="1.6"/>
<line x1="773.05" y1="61.40" x2="779.55" y2="61.40" stroke="#000" stroke-width="1.6"/>
<rect x="773.20" y="50.30" width="6.2" height="6.2" fill="#000"/>
<line x1="478.8" y1="39.30" x2="526" y2="39.30" stroke="#e80d14" stroke-width="2.2" stroke-linecap="round"/>
<circle cx="502.60" cy="39.30" r="3.75" fill="#e80d14"/>
<text x="531.50" y="45.60" font-size="20.8" font-weight="bold" text-anchor="start" >pH=7.4</text>
<line x1="478.8" y1="65.45" x2="526" y2="65.45" stroke="#1ee61e" stroke-width="2.2" stroke-linecap="round"/>
<polygon points="502.60,60.60 507.10,68.43 498.10,68.43" fill="#1ee61e"/>
<text x="531.50" y="71.75" font-size="20.8" font-weight="bold" text-anchor="start" >pH=6.5</text>
<line x1="478.8" y1="91.60" x2="526" y2="91.60" stroke="#000" stroke-width="2.2" stroke-linecap="round"/>
<rect x="499.35" y="88.35" width="6.5" height="6.5" fill="#000"/>
<text x="531.50" y="97.90" font-size="20.8" font-weight="bold" text-anchor="start" word-spacing="1.2">pH=6.5 + NIR</text>
<rect x="471.3" y="23.2" width="312.70" height="242.00" fill="none" stroke="#111" stroke-width="1.8"/>
</svg>
</body></html>
